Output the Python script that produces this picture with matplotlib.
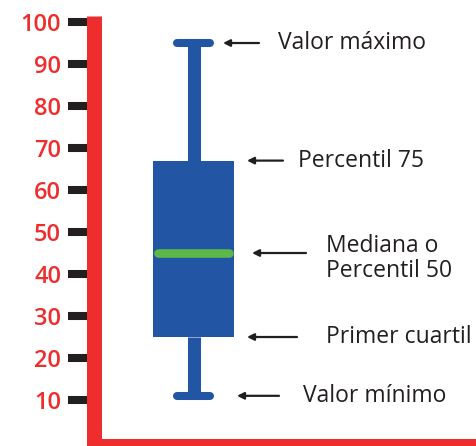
import matplotlib.pyplot as plt

# ── Datos del diagrama de caja ────────────────────────────────────────────────
valor_minimo = 11
primer_cuartil = 25
mediana = 45
percentil_75 = 67
valor_maximo = 95

ticks_y = [10, 20, 30, 40, 50, 60, 70, 80, 90, 100]

etiquetas = [
    ("Valor máximo", valor_maximo),
    ("Percentil 75", percentil_75),
    ("Mediana o\nPercentil 50", mediana),
    ("Primer cuartil", primer_cuartil),
    ("Valor mínimo", valor_minimo),
]

ROJO = "#EE2E2E"
AZUL = "#2255A4"
VERDE = "#5DB847"
TEXTO = "#231F20"

plt.rcParams["font.family"] = ["Open Sans", "DejaVu Sans"]

fig = plt.figure(figsize=(4.76, 4.46), dpi=100)
ax = fig.add_axes([0, 0, 1, 1])
ax.set_xlim(0, 476)
ax.set_ylim(-0.95, 105.24)

stats = [{
    "whislo": valor_minimo, "q1": primer_cuartil, "med": mediana,
    "q3": percentil_75, "whishi": valor_maximo,
}]
res = ax.bxp(
    stats, positions=[193.5], widths=[81], capwidths=[33],
    showfliers=False, patch_artist=True,
    boxprops=dict(facecolor=AZUL, edgecolor=AZUL, linewidth=0),
    whiskerprops=dict(color=AZUL, linewidth=9.4, solid_capstyle="butt"),
    capprops=dict(color=AZUL, linewidth=5.8, solid_capstyle="round"),
    medianprops=dict(color=VERDE, linewidth=6.2, solid_capstyle="round"),
    manage_ticks=False, zorder=3,
)
# mediana con extremos redondeados dentro de la caja
for linea in res["medians"]:
    x0, x1 = linea.get_xdata()
    linea.set_xdata([x0 + 5, x1 - 5])

# ejes rojos
for lado in ["top", "right"]:
    ax.spines[lado].set_visible(False)
ax.spines["left"].set_position(("data", 94))
ax.spines["left"].set_bounds(-2, 101.4)
ax.spines["bottom"].set_position(("data", -0.85))
ax.spines["bottom"].set_bounds(87, 476)
for lado in ["left", "bottom"]:
    ax.spines[lado].set_color(ROJO)
    ax.spines[lado].set_linewidth(10.8)
    ax.spines[lado].set_capstyle("butt")

ax.set_xticks([])
ax.set_yticks(ticks_y)
ax.tick_params(axis="y", direction="out", length=18.7, width=5.8,
               color="#231F20", pad=5, labelsize=17, labelcolor=ROJO)
for lbl in ax.get_yticklabels():
    lbl.set_fontweight("semibold")

# flechas y textos
flechas = {
    "Valor máximo": (223, 259, 278),
    "Percentil 75": (247, 283, 298),
    "Mediana o\nPercentil 50": (252, 306, 326),
    "Primer cuartil": (247, 297, 326),
    "Valor mínimo": (237, 279, 303),
}
for texto, valor in etiquetas:
    punta, cola, xt = flechas[texto]
    ax.annotate("", xy=(punta, valor), xytext=(cola, valor),
                arrowprops=dict(arrowstyle="-|>", color=TEXTO, lw=1.6,
                                mutation_scale=10, shrinkA=0, shrinkB=0))
    dy = -1.3 if "\n" in texto else 0
    ax.text(xt, valor + dy, texto, fontsize=16.5, color=TEXTO,
            va="center", ha="left", linespacing=1.1)

fig.savefig("out.png", dpi=100)
